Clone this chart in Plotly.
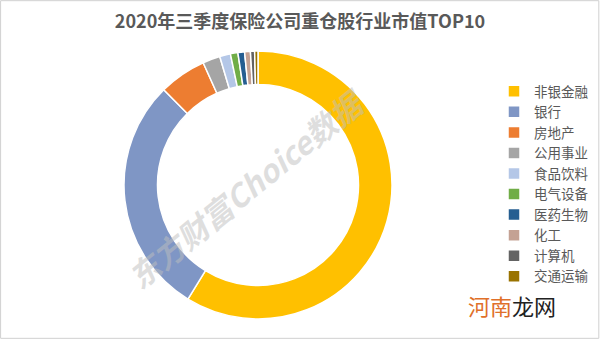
import plotly.graph_objects as go

categories = ["非银金融", "银行", "房地产", "公用事业", "食品饮料", "电气设备", "医药生物", "化工", "计算机", "交通运输"]
values = [58.7, 28.8, 5.7, 2.1, 1.3, 0.9, 0.8, 0.7, 0.5, 0.4]
colors = ["#FFC000", "#7F96C5", "#ED7D31", "#A5A5A5", "#B4C7E7", "#70AD47", "#255E91", "#C4A294", "#636363", "#997300"]

W, H = 600, 339
cx, cy, r = 258, 185, 134

fig = go.Figure(go.Pie(
    labels=categories, values=values, sort=False, direction="clockwise", rotation=0,
    hole=0.75, textinfo="none", hoverinfo="label+value",
    marker=dict(colors=colors, line=dict(color="white", width=1.5)),
    domain=dict(x=[(cx - r) / W, (cx + r) / W], y=[(H - cy - r) / H, (H - cy + r) / H]),
))

fig.update_layout(
    width=W, height=H, margin=dict(l=0, r=0, t=0, b=0, autoexpand=False),
    paper_bgcolor="white", plot_bgcolor="white",
    font=dict(family="Noto Sans CJK SC, Microsoft YaHei, sans-serif", color="#595959"),
    title=dict(text="<b>2020年三季度保险公司重仓股行业市值TOP10</b>", x=0.5, xanchor="center",
               y=1 - 22 / H, yanchor="middle", font=dict(size=18, color="#595959")),
    legend=dict(x=494 / W, y=1 - 76 / H, xanchor="left", yanchor="top",
                font=dict(size=13.5, color="#595959"), itemwidth=30, tracegroupgap=0,
                bgcolor="rgba(0,0,0,0)"),
    shapes=[dict(type="rect", xref="paper", yref="paper", x0=0.001, y0=0.002, x1=0.998, y1=0.998,
                 line=dict(color="#D0D0D0", width=1))],
    annotations=[
        dict(text="<b><i>东方财富Choice数据</i></b>", x=245 / W, y=1 - 188 / H, xref="paper", yref="paper",
             showarrow=False, textangle=-39, font=dict(size=31, color="rgba(190,190,190,0.5)")),
        dict(text="<span style='color:#E0702A'>河南</span>龙网", x=512 / W, y=1 - 305 / H, xref="paper", yref="paper",
             xanchor="center", yanchor="middle",
             showarrow=False, font=dict(size=22, color="#222222")),
    ],
)

fig.write_html("out.html")
